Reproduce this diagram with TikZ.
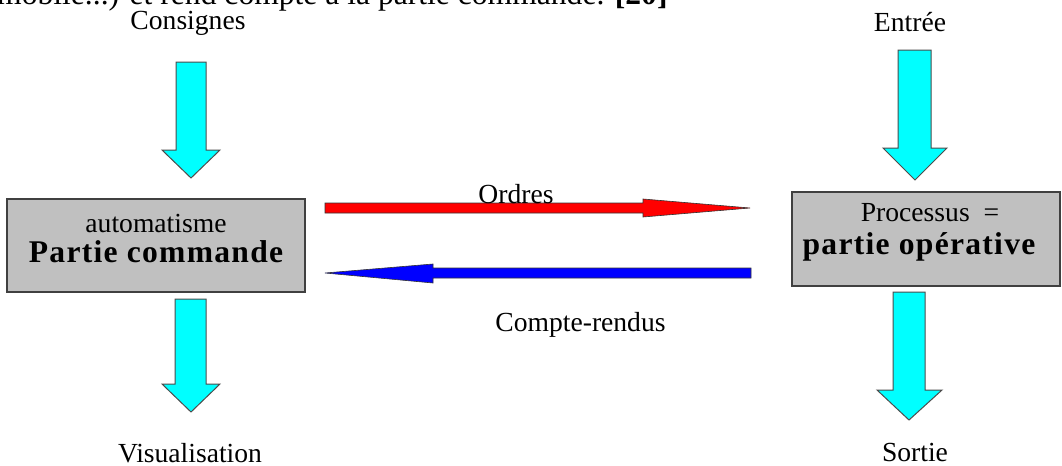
\documentclass[tikz,border=0pt]{standalone}
\usepackage{fontspec}
\setmainfont{Liberation Serif}
\definecolor{aqua}{RGB}{0,255,255}
\definecolor{boxgray}{RGB}{192,192,192}
\begin{document}
\begin{tikzpicture}[x=0.5pt,y=-0.5pt,
  lbl/.style={inner sep=0pt,font=\fontsize{13.8}{16}\selectfont},
  boldlbl/.style={inner sep=0pt,font=\fontsize{15.8}{18}\selectfont\bfseries\addfontfeature{LetterSpace=4}},
  blk/.style={draw=black!75,line width=0.6pt,fill=boxgray},
  cyanarrow/.style={draw=black!70,line width=0.5pt,fill=aqua,line join=miter},
  redarrow/.style={draw=black!80,line width=0.3pt,fill=red},
  bluearrow/.style={draw=black!80,line width=0.3pt,fill=blue}]
\clip (0,0) rectangle (1062,466);
\fill[white] (0,0) rectangle (1062,466);
% clipped text line at the top (cut off in the reference)
\node[anchor=base west,inner sep=0pt,font=\fontsize{15.8}{19}\selectfont] (top) at (160,4.5) {\llap{mobile...) et\ }rend compte à la partie commande. \textbf{[20]}};
% labels
\node[lbl] (cons) at (188,23) {Consignes};
\node[lbl] (entree) at (910,22) {Entrée};
\node[lbl] (visu) at (190,453) {Visualisation};
\node[lbl] (sortie) at (915,452) {Sortie};
% boxes
\draw[blk] (7,199) rectangle (305,292);
\node[lbl] (pc1) at (156,223) {automatisme};
\node[boldlbl] (pc2) at (156,252) {Partie commande};
\draw[blk] (792,192) rectangle (1060,286);
\node[lbl] (po1) at (930,213) {Processus \ =};
\node[boldlbl] (po2) at (919,247) {partie opérative};
% cyan block arrows
\draw[cyanarrow] (176,62) -- (206,62) -- (206,150) -- (220,150) -- (191,178) -- (162,150) -- (176,150) -- cycle;
\draw[cyanarrow] (175,299) -- (206,299) -- (206,384) -- (220,384) -- (191,412) -- (162,384) -- (175,384) -- cycle;
\draw[cyanarrow] (898,50) -- (931,50) -- (931,148) -- (947,148) -- (915,180) -- (883,148) -- (898,148) -- cycle;
\draw[cyanarrow] (893,292) -- (925,292) -- (925,390) -- (942,390) -- (909,420) -- (877,390) -- (893,390) -- cycle;
% red arrow (Ordres)
\draw[redarrow] (325,203) -- (643,203) -- (643,199) -- (750,208) -- (643,217) -- (643,213) -- (325,213) -- cycle;
\node[lbl,anchor=base] (ordres) at (516,203) {Ordres};
% blue arrow (Compte-rendus)
\draw[bluearrow] (751,268) -- (433,268) -- (433,264) -- (325,273) -- (433,283) -- (433,278) -- (751,278) -- cycle;
\node[lbl,anchor=west] (cr) at (495,325) {Compte-rendus};
\end{tikzpicture}
\end{document}
